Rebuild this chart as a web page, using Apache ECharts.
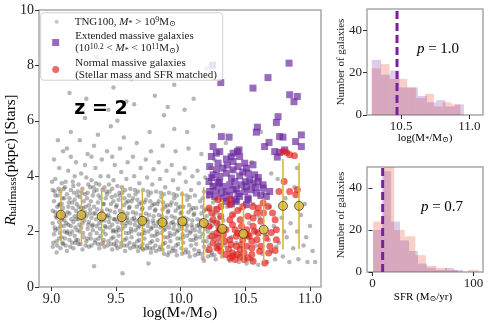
<!DOCTYPE html>
<html>
<head>
<meta charset="utf-8">
<script src="https://cdn.jsdelivr.net/npm/echarts@6/dist/echarts.min.js"></script>
<style>
  html, body { margin: 0; padding: 0; background: #fff; }
  #chart { width: 492px; height: 323px; }
</style>
</head>
<body>
<div id="chart"></div>
<script>
// ---- data ----
// TNG100 background galaxies [log M*, R_halfmass]
var tngPoints = [
  [9.01,1.45],[9.02,1.9],[9.01,2.3],[9.03,2.7],[9.02,3.1],[9.01,3.5],[9.04,1.65],[9.05,2.1],[9.04,2.5],[9.06,2.95],[9.05,3.3],[9.03,3.9],[9.07,1.4],[9.08,1.8],[9.07,2.2],[9.09,2.6],[9.08,3.0],[9.07,3.45],[9.06,4.3],[9.09,1.55],[9.1,2.0],[9.1,2.4],[9.09,2.85],[9.1,3.2],[9.08,3.75],[9.02,4.6],[9.05,5.3],[9.09,4.9],[9.04,1.25],[9.06,2.35],[9.03,2.05],[9.08,2.45],[9.01,2.75],[9.06,1.75],[9.03,3.3],
  [9.11,1.5],[9.12,1.95],[9.11,2.55],[9.13,2.9],[9.12,3.35],[9.11,3.8],[9.14,1.7],[9.15,2.2],[9.14,2.65],[9.16,3.05],[9.15,3.5],[9.13,4.2],[9.17,1.4],[9.18,1.85],[9.17,2.35],[9.19,2.75],[9.18,3.15],[9.17,3.65],[9.19,4.5],[9.16,1.6],[9.2,2.05],[9.19,2.45],[9.2,3.3],[9.18,4.0],[9.12,5.0],[9.15,5.6],[9.13,2.25],[9.16,2.0],[9.14,3.2],[9.18,2.55],[9.12,1.3],[9.19,1.7],[9.15,4.7],
  [9.21,1.55],[9.22,2.0],[9.21,2.45],[9.23,2.85],[9.22,3.25],[9.21,3.7],[9.24,1.35],[9.25,1.8],[9.24,2.3],[9.26,2.7],[9.25,3.1],[9.24,3.55],[9.27,1.65],[9.28,2.1],[9.27,2.55],[9.29,2.95],[9.28,3.4],[9.27,3.95],[9.26,4.4],[9.29,1.45],[9.3,1.9],[9.29,2.35],[9.3,2.8],[9.28,4.8],[9.23,4.1],[9.22,5.3],[9.26,6.1],[9.23,2.15],[9.25,2.55],[9.28,1.75],[9.21,2.9],[9.26,3.35],[9.3,3.6],
  [9.31,1.5],[9.32,2.05],[9.31,2.5],[9.33,2.9],[9.32,3.3],[9.31,3.85],[9.34,1.7],[9.35,2.2],[9.34,2.65],[9.36,3.05],[9.35,3.5],[9.34,4.3],[9.37,1.4],[9.38,1.85],[9.37,2.3],[9.39,2.75],[9.38,3.2],[9.37,3.7],[9.39,4.6],[9.36,1.55],[9.4,2.0],[9.39,2.45],[9.4,3.0],[9.38,4.0],[9.33,5.1],[9.36,5.5],[9.32,2.25],[9.35,1.95],[9.38,2.6],[9.33,3.45],[9.4,1.6],[9.31,4.7],[9.33,0.75],
  [9.41,1.45],[9.42,1.9],[9.41,2.4],[9.43,2.8],[9.42,3.2],[9.41,3.6],[9.44,1.65],[9.45,2.15],[9.44,2.6],[9.46,3.0],[9.45,3.45],[9.44,4.0],[9.47,1.35],[9.48,1.8],[9.47,2.25],[9.49,2.7],[9.48,3.1],[9.47,3.55],[9.49,4.4],[9.46,1.55],[9.5,2.0],[9.49,2.45],[9.5,2.9],[9.48,3.85],[9.43,4.9],[9.46,5.8],[9.42,2.15],[9.45,2.5],[9.48,2.05],[9.43,3.35],[9.5,1.5],[9.47,4.7],[9.44,6.4],
  [9.51,1.4],[9.52,1.85],[9.51,2.35],[9.53,2.75],[9.52,3.15],[9.51,3.65],[9.54,1.6],[9.55,2.1],[9.54,2.55],[9.56,2.95],[9.55,3.4],[9.54,4.15],[9.57,1.3],[9.58,1.75],[9.57,2.2],[9.59,2.65],[9.58,3.05],[9.57,3.5],[9.59,4.5],[9.56,1.5],[9.6,1.95],[9.59,2.4],[9.6,2.85],[9.58,3.9],[9.53,5.0],[9.56,5.4],[9.52,2.05],[9.55,2.45],[9.58,2.3],[9.53,3.3],[9.6,3.3],[9.55,0.5],[9.51,6.0],
  [9.61,1.4],[9.62,1.8],[9.61,2.3],[9.63,2.7],[9.62,3.1],[9.61,3.55],[9.64,1.55],[9.65,2.05],[9.64,2.5],[9.66,2.9],[9.65,3.35],[9.64,4.0],[9.67,1.3],[9.68,1.7],[9.67,2.15],[9.69,2.6],[9.68,3.0],[9.67,3.45],[9.69,4.3],[9.66,1.45],[9.7,1.9],[9.69,2.35],[9.7,2.8],[9.68,3.75],[9.63,4.7],[9.66,5.2],[9.62,2.0],[9.65,2.4],[9.68,2.2],[9.63,3.2],[9.7,1.4],[9.64,6.6],
  [9.71,1.35],[9.72,1.75],[9.71,2.25],[9.73,2.65],[9.72,3.05],[9.71,3.5],[9.74,1.5],[9.75,2.0],[9.74,2.45],[9.76,2.85],[9.75,3.3],[9.74,3.95],[9.77,1.25],[9.78,1.65],[9.77,2.1],[9.79,2.55],[9.78,2.95],[9.77,3.4],[9.79,4.25],[9.76,1.4],[9.8,1.85],[9.79,2.3],[9.8,2.75],[9.78,3.7],[9.73,4.6],[9.76,5.6],[9.72,1.95],[9.75,2.35],[9.78,2.15],[9.73,3.15],[9.75,0.85],[9.77,4.9],
  [9.81,1.3],[9.82,1.7],[9.81,2.2],[9.83,2.6],[9.82,3.0],[9.81,3.45],[9.84,1.45],[9.85,1.95],[9.84,2.4],[9.86,2.8],[9.85,3.25],[9.84,3.9],[9.87,1.2],[9.88,1.6],[9.87,2.05],[9.89,2.5],[9.88,2.9],[9.87,3.35],[9.89,4.2],[9.86,1.35],[9.9,1.8],[9.89,2.25],[9.9,2.7],[9.88,3.6],[9.83,4.5],[9.86,5.1],[9.82,1.9],[9.85,2.3],[9.88,2.1],[9.83,3.1],[9.87,6.2],[9.9,1.15],
  [9.91,1.25],[9.92,1.65],[9.91,2.15],[9.93,2.55],[9.92,2.95],[9.91,3.4],[9.94,1.4],[9.95,1.9],[9.94,2.35],[9.96,2.75],[9.95,3.2],[9.94,3.85],[9.97,1.15],[9.98,1.55],[9.97,2.0],[9.99,2.45],[9.98,2.85],[9.97,3.3],[9.99,4.1],[9.96,1.3],[10.0,1.75],[9.99,2.2],[10.0,2.65],[9.98,3.55],[9.93,4.4],[9.96,4.9],[9.92,1.85],[9.95,2.25],[9.98,2.05],[9.93,3.05],[9.95,5.7],
  [10.01,1.2],[10.02,1.6],[10.01,2.1],[10.03,2.5],[10.02,2.9],[10.01,3.35],[10.04,1.35],[10.05,1.85],[10.04,2.3],[10.06,2.7],[10.05,3.15],[10.04,3.8],[10.07,1.1],[10.08,1.5],[10.07,1.95],[10.09,2.4],[10.08,2.8],[10.07,3.25],[10.09,4.0],[10.06,1.25],[10.1,1.7],[10.09,2.15],[10.1,2.6],[10.08,3.5],[10.03,4.3],[10.06,5.0],[10.02,1.8],[10.05,2.2],[10.08,2.0],[10.03,6.4],
  [10.11,1.15],[10.12,1.55],[10.11,2.05],[10.13,2.45],[10.12,2.85],[10.11,3.3],[10.14,1.3],[10.15,1.8],[10.14,2.25],[10.16,2.65],[10.15,3.1],[10.14,3.75],[10.17,1.05],[10.18,1.45],[10.17,1.9],[10.19,2.35],[10.18,2.75],[10.17,3.2],[10.19,3.95],[10.16,1.2],[10.2,1.65],[10.19,2.1],[10.2,2.55],[10.18,3.45],[10.13,4.2],[10.16,4.8],[10.12,1.75],[10.15,2.15],[10.18,0.95],
  [10.21,1.1],[10.22,1.5],[10.21,2.0],[10.23,2.4],[10.22,2.8],[10.21,3.25],[10.24,1.25],[10.25,1.75],[10.24,2.2],[10.26,2.6],[10.25,3.05],[10.24,3.7],[10.27,1.0],[10.28,1.4],[10.27,1.85],[10.29,2.3],[10.28,2.7],[10.27,3.15],[10.29,3.9],[10.26,1.15],[10.3,1.6],[10.29,2.05],[10.3,2.5],[10.23,4.3],[10.26,4.6],
  [10.32,1.1],[10.34,1.5],[10.33,2.4],[10.36,2.9],[10.35,3.4],[10.38,0.95],[10.39,1.8],[10.41,2.6],[10.42,1.2],[10.44,3.1],[10.45,0.9],[10.47,2.0],[10.48,1.4],[10.5,3.5],[10.51,0.85],[10.53,2.3],[10.55,1.0],[10.56,3.0],[10.58,1.5],[10.6,0.8],[10.61,2.5],[10.63,1.2],[10.64,3.4],[10.66,1.9],[10.67,0.9],[10.69,2.9],[10.7,1.3],[10.72,2.2],[10.73,1.0],[10.75,3.9],[10.76,1.6],[10.78,2.5],[10.79,1.1],[10.81,3.2],[10.82,1.8],[10.84,0.9],[10.85,2.3],[10.87,1.4],[10.88,3.6],[10.9,2.0],[10.91,1.0],[10.93,2.6],[10.95,1.5],[10.96,3.0],[10.98,0.9],[11.0,2.2],[11.02,1.3],[11.04,0.9],[10.4,4.2],[10.55,4.5],[10.7,4.1],[10.9,4.3],[10.35,5.2],[10.62,5.6],[10.46,2.8],[10.58,2.0],[10.68,1.7],[10.8,2.0],[10.97,1.8],[10.43,1.6],[10.52,1.8],[10.74,1.45],
  [9.14,7.0],[9.27,6.8],[9.48,7.2],[9.62,7.5],[9.8,6.9],[9.95,7.3],[10.1,6.8],[10.2,7.9],[9.35,8.3],[9.58,6.7],[10.05,5.6],[10.25,5.8],[9.9,6.5],
  // dense core, second pass
  [9.015,1.6],[9.025,2.15],[9.035,2.55],[9.045,2.9],[9.055,3.55],[9.065,1.95],[9.075,2.65],[9.085,3.2],[9.095,2.2],[9.005,3.8],[9.045,1.5],[9.085,1.6],[9.025,3.45],[9.065,3.0],[9.095,3.55],
  [9.105,1.75],[9.115,2.3],[9.125,2.7],[9.135,3.05],[9.145,1.9],[9.155,2.45],[9.165,2.85],[9.175,3.4],[9.185,2.15],[9.195,3.0],[9.105,3.6],[9.145,1.45],[9.165,3.8],[9.125,2.0],[9.185,1.6],
  [9.205,1.7],[9.215,2.25],[9.225,2.6],[9.235,3.4],[9.245,1.95],[9.255,2.4],[9.265,2.9],[9.275,3.2],[9.285,2.25],[9.295,2.65],[9.205,3.45],[9.245,2.85],[9.265,1.5],[9.285,3.7],[9.225,1.55],
  [9.305,1.75],[9.315,2.2],[9.325,2.65],[9.335,1.6],[9.345,2.45],[9.355,2.8],[9.365,3.3],[9.375,2.1],[9.385,2.4],[9.395,3.5],[9.305,3.1],[9.345,3.75],[9.365,1.75],[9.385,1.55],[9.325,3.6],
  [9.405,1.7],[9.415,2.2],[9.425,2.55],[9.435,1.5],[9.445,2.35],[9.455,2.75],[9.465,3.25],[9.475,2.0],[9.485,2.45],[9.495,3.3],[9.405,3.0],[9.445,3.7],[9.465,1.75],[9.485,1.55],[9.425,3.45],
  [9.505,1.65],[9.515,2.15],[9.525,2.5],[9.535,1.45],[9.545,2.3],[9.555,2.7],[9.565,3.2],[9.575,1.95],[9.585,2.5],[9.595,3.1],[9.505,2.95],[9.545,3.6],[9.565,1.7],[9.585,1.5],[9.525,3.4],
  [9.605,1.6],[9.615,2.1],[9.625,2.45],[9.635,1.45],[9.645,2.25],[9.655,2.65],[9.665,3.15],[9.675,1.9],[9.685,2.45],[9.695,3.05],[9.605,2.9],[9.645,3.5],[9.665,1.65],[9.685,1.45],
  [9.705,1.55],[9.715,2.05],[9.725,2.4],[9.735,1.4],[9.745,2.2],[9.755,2.6],[9.765,3.1],[9.775,1.85],[9.785,2.4],[9.795,3.0],[9.705,2.85],[9.745,3.45],[9.765,1.6],[9.785,1.4],
  [9.805,1.5],[9.815,2.0],[9.825,2.35],[9.835,1.35],[9.845,2.15],[9.855,2.55],[9.865,3.05],[9.875,1.8],[9.885,2.35],[9.895,2.95],[9.805,2.8],[9.845,3.4],[9.865,1.55],
  [9.905,1.45],[9.915,1.95],[9.925,2.3],[9.935,1.3],[9.945,2.1],[9.955,2.5],[9.965,3.0],[9.975,1.75],[9.985,2.3],[9.995,2.9],[9.905,2.75],[9.945,3.35],[9.965,1.5],
  [10.005,1.4],[10.015,1.9],[10.025,2.25],[10.035,1.25],[10.045,2.05],[10.055,2.45],[10.065,2.95],[10.075,1.7],[10.085,2.25],[10.095,2.85],[10.005,2.7],[10.045,3.3],
  [10.105,1.35],[10.115,1.85],[10.125,2.2],[10.135,1.2],[10.145,2.0],[10.155,2.4],[10.165,2.9],[10.175,1.65],[10.185,2.2],[10.195,2.8],[10.105,2.65],
  [10.205,1.3],[10.215,1.8],[10.225,2.15],[10.235,1.15],[10.245,1.95],[10.255,2.35],[10.265,2.85],[10.275,1.6],[10.285,2.15]
];

// extended massive galaxies
var extendedPoints = [
  [10.247,8.01],[10.31,7.38],[10.838,8.08],[10.675,7.56],[10.559,7.18],[10.843,6.94],[10.902,6.88],[10.876,6.69],[10.753,6.15],[10.74,5.94],[10.593,5.77],[10.585,5.59],[10.933,5.49],[10.889,5.25],[10.933,5.07],[10.765,5.43],[10.791,5.41],[10.649,5.07],[10.683,5.22],[10.727,4.89],[10.765,4.86],[10.747,4.69],[10.804,4.95],[10.314,5.43],[10.374,5.41],[10.25,5.07],[10.302,4.89],[10.276,4.83],[10.438,4.89],[10.451,4.95],[10.405,4.83],
  [10.237,4.71],[10.456,4.71],[10.289,4.47],[10.353,4.62],[10.405,4.53],
  [10.224,4.35],[10.276,4.23],[10.327,4.29],[10.405,4.23],[10.443,4.35],[10.495,4.47],[10.508,4.29],[10.559,4.41],
  [10.25,4.05],[10.302,3.99],[10.353,4.11],[10.392,3.93],[10.456,4.01],[10.521,4.11],[10.534,3.87],[10.572,4.05],
  [10.219,3.81],[10.25,3.63],[10.289,3.77],[10.327,3.63],[10.379,3.69],[10.418,3.81],[10.469,3.69],[10.508,3.63],[10.559,3.75],[10.598,3.81],[10.637,3.69],
  [10.224,3.45],[10.276,3.51],[10.314,3.39],[10.353,3.45],[10.405,3.51],[10.443,3.37],[10.495,3.45],[10.546,3.51],[10.585,3.39],[10.637,3.57],[10.688,3.45],
  [10.224,3.33],[10.263,3.27],[10.327,3.21],[10.379,3.29],[10.418,3.15],[10.456,3.27],[10.521,3.21],[10.662,3.27],
  [10.353,3.09],[10.392,3.0],[10.43,3.09],[10.508,2.97],[10.521,3.15],
  [10.36,4.4],[10.48,4.15],[10.6,3.95],[10.3,3.75],[10.43,3.55],[10.62,3.3],[10.24,3.95],[10.39,4.7],[10.5,3.8],[10.58,3.6]
];

// normal massive galaxies (matched sample)
var normalPoints = [
  [10.791,4.89],[10.82,4.86],[10.843,4.77],[10.88,4.74],[10.8,3.81],[10.843,3.45],[10.902,3.51],[10.89,3.33],[10.76,3.45],
  [10.289,3.15],[10.379,3.17],[10.559,2.91],[10.637,3.03],[10.675,2.91],[10.71,2.67],[10.73,2.43],[10.74,2.07],[10.7,1.97],
  [10.22,2.85],[10.24,2.67],[10.28,2.81],[10.31,2.55],[10.4,2.61],[10.46,2.43],[10.52,2.55],[10.59,2.67],[10.62,2.37],
  [10.22,2.19],[10.28,2.31],[10.35,2.07],[10.4,2.25],[10.44,1.95],[10.51,2.07],[10.56,2.19],[10.6,1.95],
  [10.24,1.83],[10.29,1.77],[10.33,1.89],[10.38,1.71],[10.43,1.83],[10.48,1.71],[10.53,1.83],[10.59,1.71],[10.66,1.77],
  [10.22,1.35],[10.28,1.41],[10.31,1.29],[10.37,1.37],[10.4,1.23],[10.46,1.35],[10.49,1.23],[10.55,1.41],[10.61,1.29],[10.69,1.47],[10.73,1.32],
  [10.38,1.05],[10.42,0.99],[10.46,1.08],[10.52,1.05],[10.56,0.93],[10.65,0.87],
  [10.25,2.43],[10.3,2.07],[10.34,1.65],[10.39,1.53],[10.43,1.47],[10.47,1.53],[10.51,1.47],[10.42,2.07],[10.47,2.19],[10.52,1.89],[10.55,1.65],[10.25,1.59],[10.3,1.47],[10.35,1.17],[10.4,1.11],[10.44,1.17],[10.49,0.99],[10.55,1.17],[10.48,2.91],[10.44,2.76],[10.38,2.97],[10.31,2.91],[10.6,2.85],[10.64,2.67],[10.28,1.95],[10.38,2.43],[10.57,2.01],[10.62,1.47],[10.68,1.23],[10.74,1.71],[10.56,2.49]
];

// binned medians with 16-84 percentile bars
var binMass   = [9.074, 9.232, 9.389, 9.544, 9.703, 9.858, 10.013, 10.178, 10.322, 10.485, 10.642, 10.791, 10.915];
var binMedian = [2.61, 2.60, 2.55, 2.52, 2.39, 2.33, 2.37, 2.31, 2.10, 1.92, 2.07, 2.93, 2.93];
var binLow    = [1.65, 1.59, 1.49, 1.44, 1.35, 1.29, 1.23, 0.99, 1.05, 0.93, 0.93, 1.35, 1.37];
var binHigh   = [3.57, 3.57, 3.59, 3.65, 3.51, 3.35, 3.46, 3.61, 3.15, 2.91, 3.21, 4.62, 4.47];

// stellar mass histograms
var massEdgesExt    = [10.285, 10.353, 10.420, 10.488, 10.555, 10.623, 10.690, 10.758, 10.825, 10.893, 10.960];
var massCountsExt   = [26, 19, 21, 13, 13, 9, 6, 7, 4, 5];
var massEdgesNorm   = [10.285, 10.350, 10.415, 10.480, 10.545, 10.610, 10.675, 10.740, 10.805, 10.870, 10.935];
var massCountsNorm  = [22, 24, 17, 17, 13, 8, 10, 4, 6, 5];
var massMedian = 10.47;

// SFR histograms
var sfrEdgesExt   = [0.5, 9.4, 18.3, 27.2, 36.1, 45.0, 53.9, 62.8, 71.7, 80.6, 89.5];
var sfrCountsExt  = [20, 48, 24, 15, 10, 4, 2, 1, 2, 1];
var sfrEdgesNorm  = [0.5, 10.95, 21.4, 31.85, 42.3, 52.75, 63.2, 73.65, 84.1, 94.55, 105.0];
var sfrCountsNorm = [24, 56, 20, 17, 8, 3, 2, 1, 0, 1];
var sfrMedian = 10;

var massTicks = [9.0, 9.5, 10.0, 10.5, 11.0];
var rTicks = [0, 2, 4, 6, 8, 10];
var histMassTicks = [10.5, 11.0];
var histSfrTicks = [0, 100];
var histCountTicks = [0, 20, 40];

// ---- styling ----
var SERIF = "'Liberation Serif', 'DejaVu Serif', serif";
var INK = '#222';
var FRAME = '#a8a8a8';
var PURPLE = 'rgba(104, 38, 160, 0.85)';
var RED = 'rgba(226, 28, 22, 0.82)';
var GOLD = '#d6b22e';
var HIST_PURPLE = 'rgba(112, 48, 160, 0.24)';
var HIST_PINK = 'rgba(232, 64, 40, 0.25)';

var myChart = echarts.init(document.getElementById('chart'), null, { renderer: 'canvas' });

function rich(size) {
  return {
    r: { fontFamily: SERIF, fontSize: size, color: INK },
    i: { fontFamily: SERIF, fontSize: size, fontStyle: 'italic', color: INK },
    sub: { fontFamily: SERIF, fontSize: Math.round(size * 0.7), color: INK, verticalAlign: 'bottom' },
    sup: { fontFamily: SERIF, fontSize: Math.round(size * 0.7), color: INK, verticalAlign: 'top' },
    g: { width: 11 }
  };
}

function histData(edges, counts) {
  var res = [];
  for (var i = 0; i < counts.length; i++) {
    res.push([edges[i], edges[i + 1], counts[i]]);
  }
  return res;
}

function histSeries(idx, edges, counts, color, name) {
  return {
    name: name,
    type: 'custom',
    xAxisIndex: idx, yAxisIndex: idx,
    clip: true,
    silent: true,
    encode: { x: [0, 1], y: 2 },
    data: histData(edges, counts),
    renderItem: function (params, api) {
      var p0 = api.coord([api.value(0), 0]);
      var p1 = api.coord([api.value(1), api.value(2)]);
      return {
        type: 'rect',
        shape: { x: p0[0], y: p1[1], width: p1[0] - p0[0], height: p0[1] - p1[1] },
        style: { fill: color }
      };
    }
  };
}

function axisCommon(extra) {
  var base = {
    type: 'value',
    splitLine: { show: false },
    axisLine: { show: false },
    axisTick: { show: true, inside: false, length: 4, lineStyle: { color: '#333', width: 1 } },
    axisLabel: { fontFamily: SERIF, fontSize: 14, color: INK, margin: 5 }
  };
  for (var k in extra) {
    if (typeof extra[k] === 'object' && base[k] && !Array.isArray(extra[k])) {
      base[k] = Object.assign({}, base[k], extra[k]);
    } else {
      base[k] = extra[k];
    }
  }
  return base;
}

var errData = binMass.map(function (m, i) { return [m, binLow[i], binHigh[i]]; });
var medData = binMass.map(function (m, i) { return [m, binMedian[i]]; });

var option = {
  animation: false,
  backgroundColor: '#fff',
  grid: [
    { left: 39, top: 10, width: 282, height: 277, show: true, borderColor: FRAME, borderWidth: 1.5, backgroundColor: 'transparent' },
    { left: 367, top: 9, width: 116, height: 106, show: true, borderColor: FRAME, borderWidth: 1.5, backgroundColor: 'transparent' },
    { left: 367, top: 167, width: 116, height: 105, show: true, borderColor: FRAME, borderWidth: 1.5, backgroundColor: 'transparent' }
  ],
  xAxis: [
    axisCommon({ gridIndex: 0, min: 8.904, max: 11.085,
      axisTick: { customValues: massTicks },
      axisLabel: { customValues: massTicks, formatter: function (v) { return v.toFixed(1); } } }),
    axisCommon({ gridIndex: 1, min: 10.25, max: 11.1,
      axisTick: { customValues: histMassTicks },
      axisLabel: { fontSize: 13, customValues: histMassTicks, formatter: function (v) { return v.toFixed(1); } } }),
    axisCommon({ gridIndex: 2, min: -5.5, max: 109.3,
      axisTick: { customValues: histSfrTicks },
      axisLabel: { fontSize: 13, customValues: histSfrTicks } })
  ],
  yAxis: [
    axisCommon({ gridIndex: 0, min: 0, max: 10,
      axisTick: { customValues: rTicks },
      axisLabel: { customValues: rTicks } }),
    axisCommon({ gridIndex: 1, min: 0, max: 50,
      axisTick: { customValues: histCountTicks },
      axisLabel: { fontSize: 13, customValues: histCountTicks } }),
    axisCommon({ gridIndex: 2, min: 0, max: 50,
      axisTick: { customValues: histCountTicks },
      axisLabel: { fontSize: 13, customValues: histCountTicks } })
  ],
  legend: [
    {
      data: [{ name: 'tng', icon: 'circle', itemStyle: { color: 'rgba(150,150,150,0.7)' } }],
      left: 54.7, top: 15.7, padding: 0, itemWidth: 4, itemHeight: 4, selectedMode: false, z: 60,
      formatter: function () { return '{g|}{r|TNG100, }{i|M}{sub|*}{r| > 10}{sup|9}{r|M}{sub|⊙}'; },
      textStyle: { lineHeight: 12, rich: rich(11) }
    },
    {
      data: [{ name: 'ext', icon: 'rect' }],
      left: 52.2, top: 30.5, padding: 0, itemWidth: 7, itemHeight: 7, selectedMode: false, z: 60,
      formatter: function () {
        return '{g|}{r|Extended massive galaxies}\n{g|}{r|(10}{sup|10.2}{r| < }{i|M}{sub|*}{r| < 10}{sup|11}{r|M}{sub|⊙}{r|)}';
      },
      textStyle: { lineHeight: 12, rich: rich(11) }
    },
    {
      data: [{ name: 'norm', icon: 'circle' }],
      left: 52.2, top: 57.5, padding: 0, itemWidth: 7, itemHeight: 7, selectedMode: false, z: 60,
      formatter: function () {
        return '{g|}{r|Normal massive galaxies}\n{g|}{r|(Stellar mass and SFR matched)}';
      },
      textStyle: { lineHeight: 12, rich: rich(11) }
    }
  ],
  graphic: [
    { type: 'rect', z: 50, silent: true,
      shape: { x: 40.7, y: 12.7, width: 182, height: 67.5, r: 3 },
      style: { fill: 'rgba(255,255,255,0.8)', stroke: '#d0d0d0', lineWidth: 1 } },
    { type: 'text', z: 55, x: 101, y: 109, silent: true,
      style: { text: 'z = 2', fontFamily: "'DejaVu Sans', sans-serif", fontWeight: 'bold', fontSize: 19,
        fill: '#000', align: 'center', verticalAlign: 'middle' } },
    { type: 'text', z: 55, x: 180, y: 313, silent: true,
      style: { text: '{r|log(M}{sub|*}{r|/M}{sub|⊙}{r|)}', rich: rich(15), align: 'center', verticalAlign: 'middle' } },
    { type: 'text', z: 55, x: 11, y: 160, rotation: Math.PI / 2, silent: true,
      style: { text: '{i|R}{sub|halfmass}{r|(pkpc) [Stars]}', rich: rich(15), align: 'center', verticalAlign: 'middle' } },
    { type: 'text', z: 55, x: 341.5, y: 62, rotation: Math.PI / 2, silent: true,
      style: { text: 'Number of galaxies', fontFamily: SERIF, fontSize: 11, fill: INK, align: 'center', verticalAlign: 'middle' } },
    { type: 'text', z: 55, x: 341.5, y: 215, rotation: Math.PI / 2, silent: true,
      style: { text: 'Number of galaxies', fontFamily: SERIF, fontSize: 11, fill: INK, align: 'center', verticalAlign: 'middle' } },
    { type: 'text', z: 55, x: 425, y: 138, silent: true,
      style: { text: '{r|log(M}{sub|*}{r|/M}{sub|⊙}{r|)}', rich: rich(11), align: 'center', verticalAlign: 'middle' } },
    { type: 'text', z: 55, x: 423, y: 297, silent: true,
      style: { text: '{r|SFR (M}{sub|⊙}{r|/yr)}', rich: rich(11), align: 'center', verticalAlign: 'middle' } },
    { type: 'text', z: 55, x: 438, y: 49, silent: true,
      style: { text: '{i|p}{r| = 1.0}', rich: rich(15), align: 'center', verticalAlign: 'middle' } },
    { type: 'text', z: 55, x: 442, y: 207, silent: true,
      style: { text: '{i|p}{r| = 0.7}', rich: rich(15), align: 'center', verticalAlign: 'middle' } }
  ],
  series: [
    {
      name: 'tng', type: 'scatter', xAxisIndex: 0, yAxisIndex: 0, silent: true,
      symbol: 'circle', symbolSize: 4.5,
      itemStyle: { color: 'rgba(40,40,40,0.42)' },
      data: tngPoints
    },
    {
      name: 'ext', type: 'scatter', xAxisIndex: 0, yAxisIndex: 0, silent: true,
      symbol: 'rect', symbolSize: 7,
      itemStyle: { color: PURPLE },
      data: extendedPoints
    },
    {
      name: 'norm', type: 'scatter', xAxisIndex: 0, yAxisIndex: 0, silent: true,
      symbol: 'circle', symbolSize: 7,
      itemStyle: { color: RED },
      data: normalPoints
    },
    {
      name: 'errbars', type: 'custom', xAxisIndex: 0, yAxisIndex: 0, silent: true, z: 3,
      encode: { x: 0, y: [1, 2] },
      data: errData,
      renderItem: function (params, api) {
        var lo = api.coord([api.value(0), api.value(1)]);
        var hi = api.coord([api.value(0), api.value(2)]);
        return {
          type: 'line',
          shape: { x1: lo[0], y1: lo[1], x2: hi[0], y2: hi[1] },
          style: { stroke: GOLD, lineWidth: 1.5 }
        };
      }
    },
    {
      name: 'median', type: 'scatter', xAxisIndex: 0, yAxisIndex: 0, silent: true, z: 4,
      symbol: 'circle', symbolSize: 9,
      itemStyle: { color: GOLD, borderColor: '#1a1a1a', borderWidth: 0.8 },
      data: medData
    },
    histSeries(1, massEdgesNorm, massCountsNorm, HIST_PINK, 'massNorm'),
    histSeries(1, massEdgesExt, massCountsExt, HIST_PURPLE, 'massExt'),
    {
      name: 'massMed', type: 'line', xAxisIndex: 1, yAxisIndex: 1, silent: true, z: 5,
      symbol: 'none',
      lineStyle: { color: '#7a1fa0', width: 3, type: [8, 4] },
      data: [[massMedian, 0], [massMedian, 50]]
    },
    histSeries(2, sfrEdgesNorm, sfrCountsNorm, HIST_PINK, 'sfrNorm'),
    histSeries(2, sfrEdgesExt, sfrCountsExt, HIST_PURPLE, 'sfrExt'),
    {
      name: 'sfrMed', type: 'line', xAxisIndex: 2, yAxisIndex: 2, silent: true, z: 5,
      symbol: 'none',
      lineStyle: { color: '#7a1fa0', width: 3, type: [8, 4] },
      data: [[sfrMedian, 0], [sfrMedian, 50]]
    }
  ]
};

myChart.setOption(option);

window.addEventListener('resize', function () {
  myChart.resize();
});
</script>
</body>
</html>
